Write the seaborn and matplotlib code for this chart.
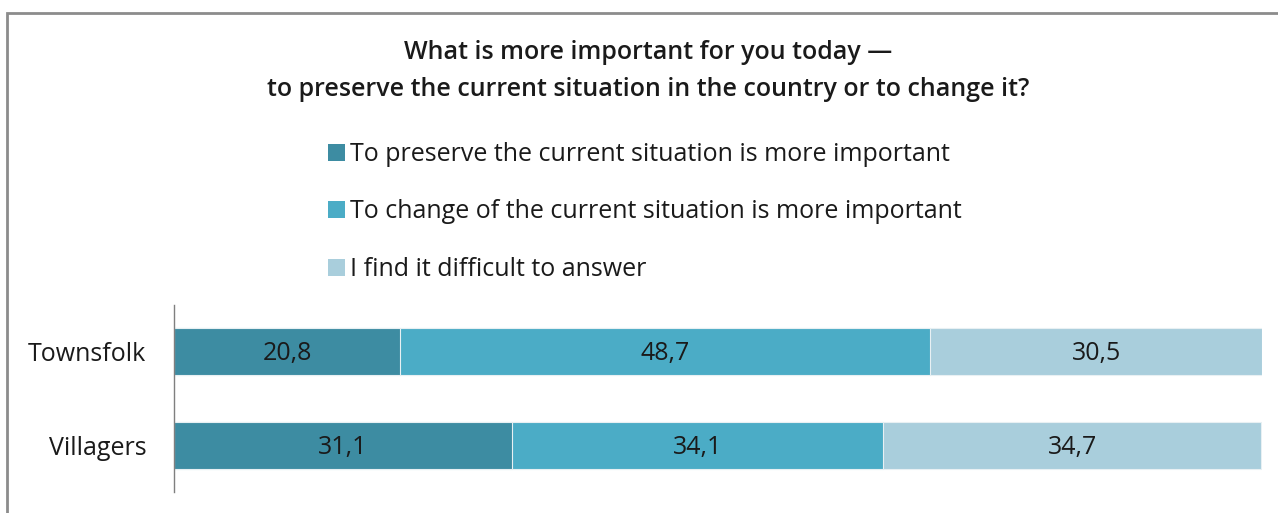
import matplotlib
matplotlib.use("Agg")
import matplotlib.pyplot as plt
from matplotlib.patches import Patch, Rectangle
import seaborn as sns
import pandas as pd
import numpy as np

# Survey results, % of respondents
groups = ["Townsfolk", "Villagers"]
answers = [
    "To preserve the current situation is more important",
    "To change of the current situation is more important",
    "I find it difficult to answer",
]
preserve = [20.8, 31.1]
change = [48.7, 34.1]
difficult = [30.5, 34.7]

colors = ["#3D8CA2", "#4BACC6", "#A9CEDC"]
title = "What is more important for you today \u2014\nto preserve the current situation in the country or to change it?"

sns.set_theme(style="white")
plt.rcParams["font.family"] = ["Open Sans", "DejaVu Sans"]

series = [preserve, change, difficult]
cum = np.cumsum(np.array(series), axis=0)  # running totals per group

fig = plt.figure(figsize=(12.78, 5.13), dpi=100)
ax = fig.add_axes([174 / 1278, 21 / 513, 1088 / 1278, 187 / 513])

# draw stacked bars back-to-front: full totals first, then shorter partial sums
for i in reversed(range(len(series))):
    df = pd.DataFrame({"group": groups, "value": cum[i]})
    sns.barplot(data=df, y="group", x="value", color=colors[i], orient="h",
                width=0.5, edgecolor="#E8F0F3", linewidth=0.8, ax=ax,
                saturation=1)

# value labels centred in each segment
for i, vals in enumerate(series):
    for j, v in enumerate(vals):
        start = cum[i][j] - v
        ax.text(start + v / 2, j + 0.02, f"{v:.1f}".replace(".", ","),
                ha="center", va="center", fontsize=18, color="#1a1a1a")

ax.set_xlim(0, 100)
ax.set_ylim(1.5, -0.5)
ax.set_xlabel("")
ax.set_ylabel("")
ax.set_xticks([])
ax.tick_params(axis="y", length=0, pad=20, labelsize=18, labelcolor="#1a1a1a")
for s in ["top", "right", "bottom"]:
    ax.spines[s].set_visible(False)
ax.spines["left"].set_color("#7f7f7f")
ax.spines["left"].set_linewidth(1.0)
for lbl in ax.get_yticklabels():
    lbl.set_ha("right")

# chart title
fig.text(0.507, 0.8615, title, ha="center", va="center", fontsize=18,
         fontweight="semibold", color="#1a1a1a", linespacing=1.6)

# legend
handles = [Patch(facecolor=c, edgecolor="none") for c in colors]
fig.legend(handles, answers, loc="upper left", bbox_to_anchor=(318 / 1278, 1 - 132 / 513),
           frameon=False, fontsize=18, handlelength=0.68, handleheight=0.68,
           handletextpad=0.2, labelspacing=1.3, borderaxespad=0,
           labelcolor="#1a1a1a")

# outer chart frame
fig.patches.append(Rectangle((7 / 1278, -0.1), 1.2, 1 - 13 / 513 + 0.1,
                             transform=fig.transFigure, fill=False,
                             edgecolor="#8c8c8c", linewidth=2.0))

fig.savefig("out.png", dpi=100)
